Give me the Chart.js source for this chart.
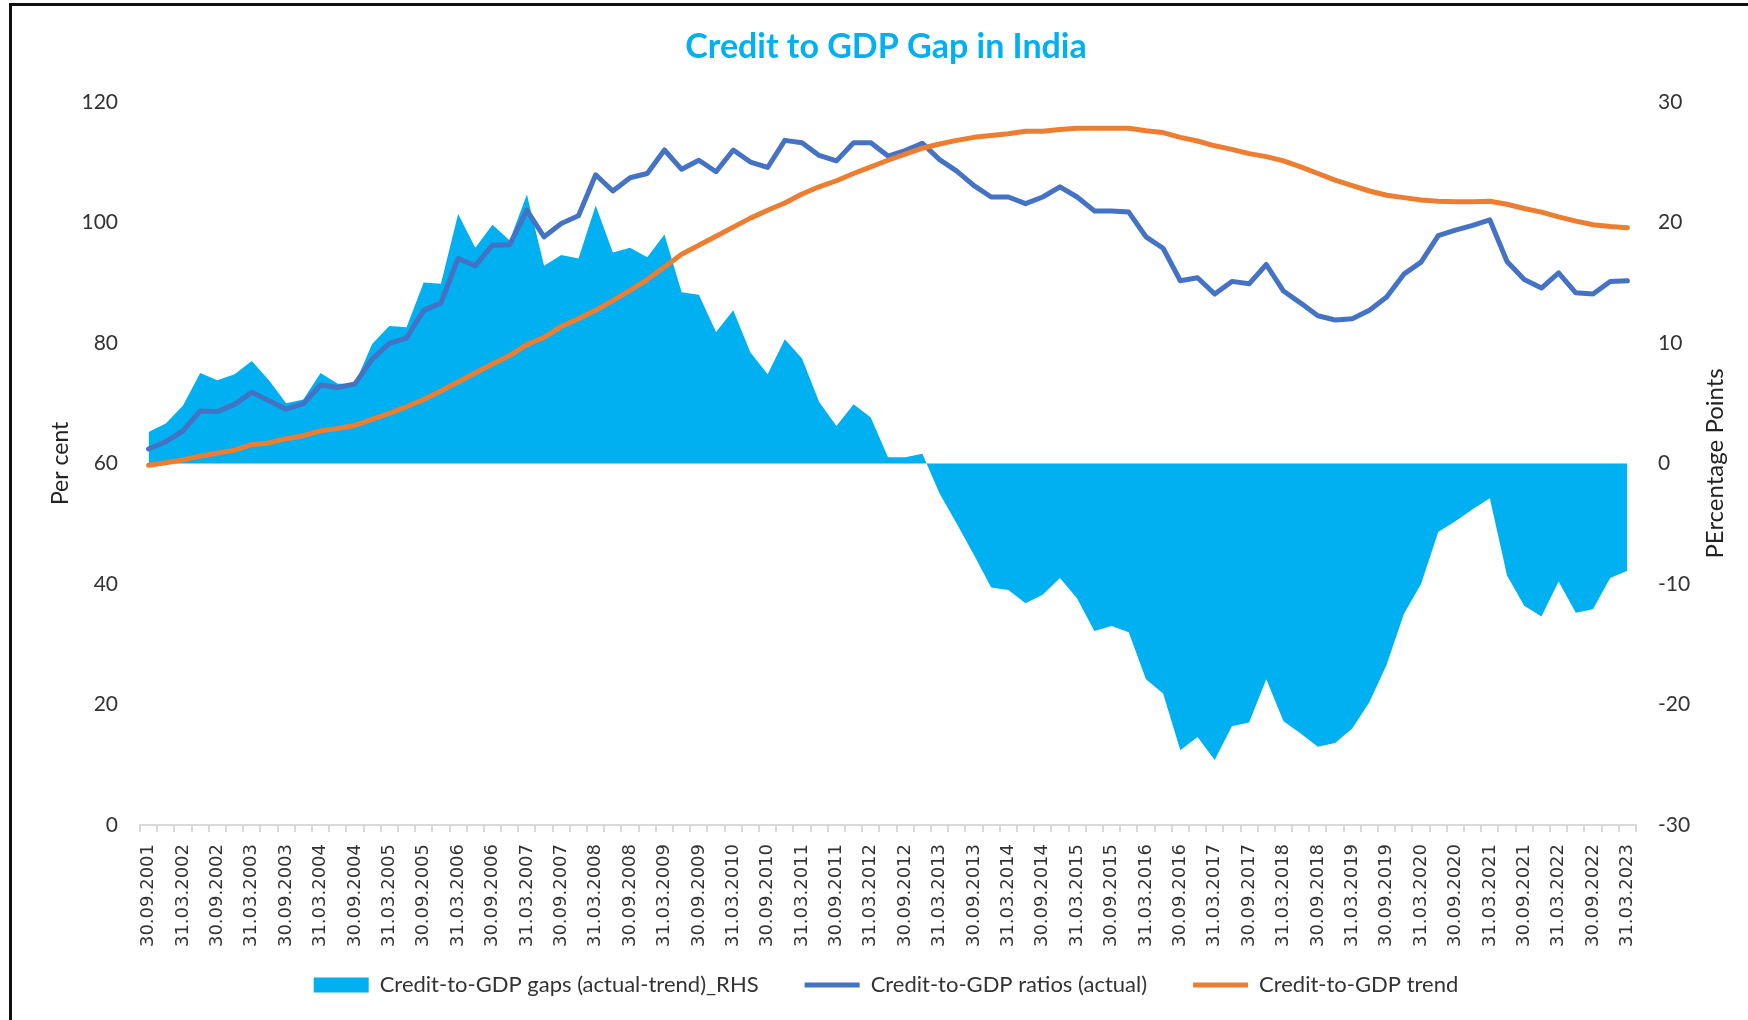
<!DOCTYPE html>
<html>
<head>
<meta charset="utf-8">
<title>Credit to GDP Gap in India</title>
<script src="https://cdn.jsdelivr.net/npm/chart.js@4.4.0/dist/chart.umd.min.js"></script>
<style>
  html, body { margin: 0; padding: 0; background: #fff; }
  #wrap { position: relative; width: 1748px; height: 1020px; overflow: hidden; }
  #frame { position: absolute; left: 9px; top: 3px; right: -10px; bottom: -10px; border-left: 3px solid #111; border-top: 3px solid #111; }
  #chart { position: absolute; left: 0; top: 0; }
</style>
</head>
<body>
<div id="wrap">
  <div id="frame"></div>
  <canvas id="chart" width="1748" height="1020"></canvas>
</div>
<script>
// quarter-end dates, 30.09.2001 .. 31.03.2023
const quarters = [
  "30.09.2001", "31.12.2001",
  "31.03.2002", "30.06.2002", "30.09.2002", "31.12.2002",
  "31.03.2003", "30.06.2003", "30.09.2003", "31.12.2003",
  "31.03.2004", "30.06.2004", "30.09.2004", "31.12.2004",
  "31.03.2005", "30.06.2005", "30.09.2005", "31.12.2005",
  "31.03.2006", "30.06.2006", "30.09.2006", "31.12.2006",
  "31.03.2007", "30.06.2007", "30.09.2007", "31.12.2007",
  "31.03.2008", "30.06.2008", "30.09.2008", "31.12.2008",
  "31.03.2009", "30.06.2009", "30.09.2009", "31.12.2009",
  "31.03.2010", "30.06.2010", "30.09.2010", "31.12.2010",
  "31.03.2011", "30.06.2011", "30.09.2011", "31.12.2011",
  "31.03.2012", "30.06.2012", "30.09.2012", "31.12.2012",
  "31.03.2013", "30.06.2013", "30.09.2013", "31.12.2013",
  "31.03.2014", "30.06.2014", "30.09.2014", "31.12.2014",
  "31.03.2015", "30.06.2015", "30.09.2015", "31.12.2015",
  "31.03.2016", "30.06.2016", "30.09.2016", "31.12.2016",
  "31.03.2017", "30.06.2017", "30.09.2017", "31.12.2017",
  "31.03.2018", "30.06.2018", "30.09.2018", "31.12.2018",
  "31.03.2019", "30.06.2019", "30.09.2019", "31.12.2019",
  "31.03.2020", "30.06.2020", "30.09.2020", "31.12.2020",
  "31.03.2021", "30.06.2021", "30.09.2021", "31.12.2021",
  "31.03.2022", "30.06.2022", "30.09.2022", "31.12.2022",
  "31.03.2023"
];

// gap, percentage points (right axis)
const gapRhs = [
  2.6, 3.3, 4.8, 7.5, 6.9, 7.4, 8.5, 6.9, 5.0, 5.3,
  7.5, 6.6, 6.6, 9.9, 11.4, 11.3, 15.0, 14.9, 20.7, 17.9,
  19.8, 18.5, 22.3, 16.4, 17.3, 17.0, 21.4, 17.5, 17.9, 17.1,
  19.0, 14.2, 14.0, 10.9, 12.7, 9.2, 7.4, 10.3, 8.7, 5.1,
  3.1, 4.9, 3.8, 0.5, 0.5, 0.8, -2.5, -5.0, -7.6, -10.3,
  -10.5, -11.6, -10.9, -9.5, -11.2, -13.9, -13.5, -14.0, -17.9, -19.1,
  -23.8, -22.7, -24.6, -21.8, -21.5, -17.9, -21.4, -22.4, -23.5, -23.2,
  -22.0, -19.8, -16.7, -12.5, -10.0, -5.7, -4.8, -3.8, -2.9, -9.3,
  -11.8, -12.7, -9.8, -12.4, -12.1, -9.5, -8.9
];

// credit-to-GDP ratio, per cent (left axis)
const ratioActual = [
  62.4, 63.6, 65.4, 68.7, 68.6, 69.8, 71.8, 70.4, 69.0, 69.9,
  73.0, 72.6, 73.2, 77.3, 79.9, 80.8, 85.4, 86.6, 94.0, 92.8,
  96.2, 96.3, 102.0, 97.6, 99.8, 101.1, 107.9, 105.2, 107.4, 108.1,
  112.0, 108.8, 110.3, 108.4, 112.0, 110.0, 109.1, 113.6, 113.2, 111.1,
  110.2, 113.2, 113.2, 111.0, 111.9, 113.1, 110.4, 108.5, 106.1, 104.2,
  104.2, 103.1, 104.2, 105.9, 104.2, 101.9, 101.9, 101.7, 97.6, 95.7,
  90.3, 90.8, 88.1, 90.2, 89.8, 93.0, 88.6, 86.6, 84.5, 83.8,
  84.0, 85.4, 87.6, 91.4, 93.4, 97.8, 98.7, 99.5, 100.4, 93.5,
  90.5, 89.1, 91.6, 88.3, 88.1, 90.2, 90.3
];

// credit-to-GDP trend, per cent (left axis)
const ratioTrend = [
  59.7, 60.1, 60.6, 61.2, 61.7, 62.2, 63.1, 63.4, 64.1, 64.6,
  65.4, 65.8, 66.3, 67.3, 68.3, 69.4, 70.6, 72.0, 73.5, 75.0,
  76.5, 77.9, 79.7, 80.9, 82.7, 84.0, 85.4, 87.0, 88.7, 90.5,
  92.6, 94.7, 96.2, 97.7, 99.2, 100.7, 102.0, 103.2, 104.7, 105.9,
  106.9, 108.1, 109.2, 110.3, 111.3, 112.3, 113.0, 113.6, 114.1, 114.4,
  114.7, 115.1, 115.1, 115.4, 115.6, 115.6, 115.6, 115.6, 115.2, 114.9,
  114.1, 113.5, 112.7, 112.1, 111.4, 110.9, 110.2, 109.2, 108.1, 107.0,
  106.1, 105.2, 104.5, 104.1, 103.7, 103.5, 103.4, 103.4, 103.5, 103.0,
  102.3, 101.7, 100.9, 100.2, 99.6, 99.3, 99.1
];

const leftAxis = { min: 0, max: 120, step: 20 };
const rightAxis = { min: -30, max: 30, step: 10 };

Chart.defaults.font.family = "Lato";

// right axis title reads bottom-to-top, as in the original
const rightTitle = {
  id: "rightTitle",
  afterLayout(chart) {
    // x labels hang below the (short) axis box; widen its clip area so they show in full
    chart.scales.x.bottom = chart.scales.x.top + 135;
  },
  afterDraw(chart) {
    const { ctx, chartArea } = chart;
    ctx.save();
    ctx.translate(chartArea.right + 79, (chartArea.top + chartArea.bottom) / 2);
    ctx.rotate(-Math.PI / 2);
    ctx.font = "24px Lato";
    ctx.fillStyle = "#222";
    ctx.textAlign = "center";
    ctx.textBaseline = "middle";
    ctx.fillText("PErcentage Points", 0, 0);
    ctx.restore();
  }
};

function lineSet(label, data, color) {
  return {
    label: label,
    data: data,
    yAxisID: "y",
    borderColor: color,
    backgroundColor: color,
    borderWidth: 5,
    borderJoinStyle: "round",
    borderCapStyle: "round",
    pointRadius: 0,
    pointStyle: "line",
    fill: false,
    tension: 0
  };
}

new Chart(document.getElementById("chart"), {
  type: "line",
  data: {
    labels: quarters,
    datasets: [
      lineSet("Credit-to-GDP trend", ratioTrend, "#ED7D31"),
      lineSet("Credit-to-GDP ratios (actual)", ratioActual, "#4472C4"),
      {
        label: "Credit-to-GDP gaps (actual-trend)_RHS",
        data: gapRhs,
        yAxisID: "y1",
        backgroundColor: "#00B0F0",
        borderColor: "#00B0F0",
        borderWidth: 0,
        pointRadius: 0,
        pointStyle: "rect",
        fill: "origin",
        tension: 0
      }
    ]
  },
  options: {
    responsive: false,
    animation: false,
    layout: { padding: { top: 0, left: 24, right: 0, bottom: 14 } },
    plugins: {
      title: {
        display: true,
        text: "Credit to GDP Gap in India",
        color: "#00B0F0",
        font: { size: 34, weight: "bold" },
        padding: { top: 27, bottom: 34 }
      },
      legend: {
        position: "bottom",
        reverse: true,
        labels: {
          usePointStyle: true,
          pointStyleWidth: 55,
          boxHeight: 15,
          padding: 46,
          color: "#333",
          font: { size: 22 }
        }
      },
      tooltip: { enabled: false }
    },
    scales: {
      x: {
        offset: true,
        grid: { display: true, offset: true, drawOnChartArea: false, drawTicks: true, tickLength: 7, color: "#d9d9d9", lineWidth: 2 },
        border: { display: true, color: "#d9d9d9", width: 2 },
        ticks: {
          autoSkip: false,
          minRotation: 90,
          maxRotation: 90,
          padding: 12,
          color: "#333",
          font: { family: "DejaVu Sans", size: 18 },
          callback: function (v, i) { return i % 2 === 0 ? this.getLabelForValue(v) : ""; }
        },
        afterFit: (s) => { s.height = 103; }
      },
      y: {
        position: "left",
        min: leftAxis.min,
        max: leftAxis.max,
        ticks: { stepSize: leftAxis.step, padding: 22, color: "#333", font: { size: 21 } },
        grid: { display: false, drawTicks: false },
        border: { display: false },
        title: { display: true, text: "Per cent", color: "#222", font: { size: 23 }, padding: { top: 23, bottom: 0 } },
        afterFit: (s) => { s.width = 116; }
      },
      y1: {
        position: "right",
        min: rightAxis.min,
        max: rightAxis.max,
        ticks: { stepSize: rightAxis.step, padding: 22, color: "#333", font: { size: 21 } },
        grid: { display: false, drawTicks: false },
        border: { display: false },
        afterFit: (s) => { s.width = 112; }
      }
    }
  },
  plugins: [rightTitle]
});
</script>
</body>
</html>
